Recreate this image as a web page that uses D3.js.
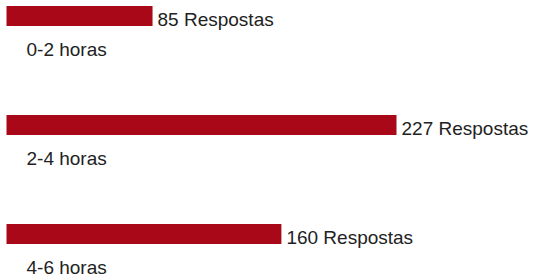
<!DOCTYPE html>
<html lang="pt">
<head>
    <meta charset="UTF-8">
    <script src="https://cdnjs.cloudflare.com/ajax/libs/d3/7.8.5/d3.min.js"></script>
    <style>
        body { margin: 0; background: #fff; }
        text { font-family: "Liberation Sans", Arial, sans-serif; fill: #222; }
    </style>
</head>
<body>
<script>
    const categorias = ['0-2 horas', '2-4 horas', '4-6 horas'];
    const respostas = [85, 227, 160];

    const width = 534, height = 274;
    const svg = d3.select("body").append("svg")
        .attr("width", width).attr("height", height);

    // escala horizontal: 227 respostas ~ 390px
    const x = d3.scaleLinear().domain([0, 227]).range([6.5, 396.5]);
    const y = d3.scaleBand().domain(categorias).range([6, 6 + 3 * 109]);
    const barH = 20;

    const g = svg.selectAll(".item")
        .data(categorias)
        .enter().append("g")
        .attr("class", "item");

    g.append("rect")
        .attr("x", x(0))
        .attr("y", d => y(d))
        .attr("width", (d, i) => x(respostas[i]) - x(0))
        .attr("height", barH)
        .attr("fill", "#a80818");

    g.append("text")
        .attr("x", (d, i) => x(respostas[i]) + 5)
        .attr("y", d => y(d) + barH)
        .style("font-size", "19px")
        .text((d, i) => respostas[i] + " Respostas");

    g.append("text")
        .attr("x", 26.5)
        .attr("y", d => y(d) + 50)
        .style("font-size", "19px")
        .text(d => d);
</script>
</body>
</html>
